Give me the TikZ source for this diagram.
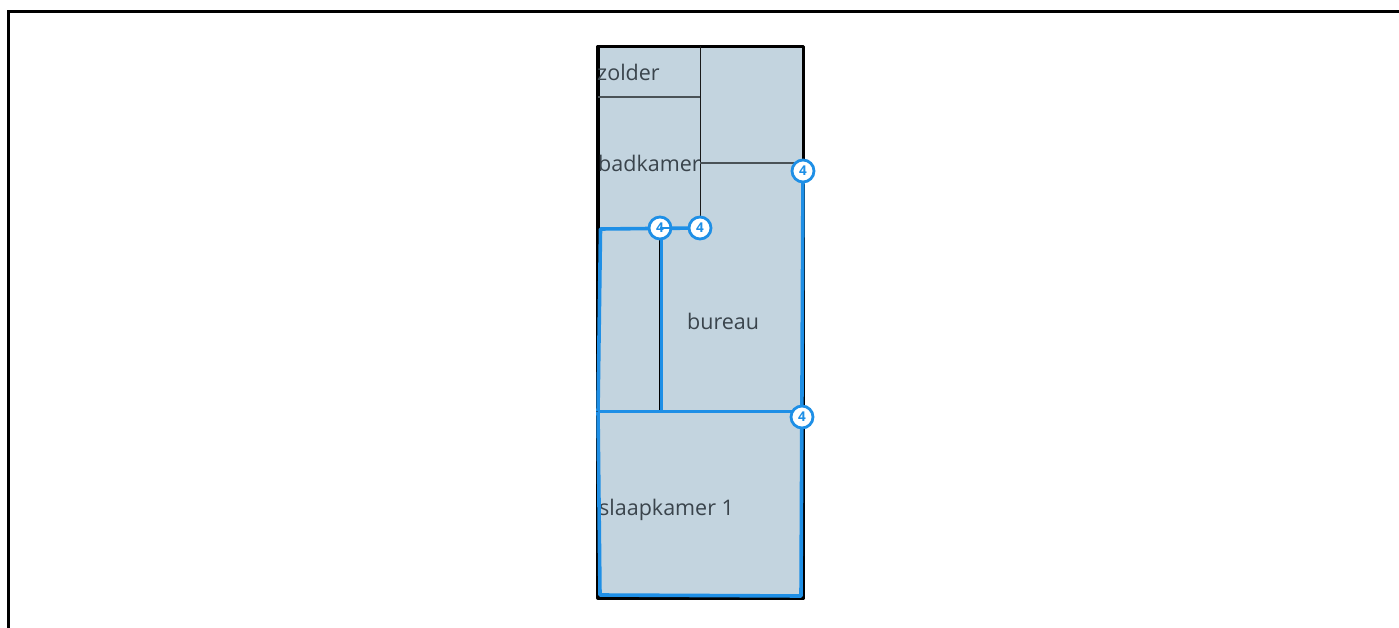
\documentclass[tikz,border=0pt]{standalone}
\usepackage{fontspec}
\setmainfont{Open Sans}
\definecolor{roomfill}{HTML}{C3D4DF}
\definecolor{roomtext}{HTML}{3A444C}
\definecolor{bluewall}{HTML}{1E8FE6}
\definecolor{thinwall}{HTML}{4A5257}
\tikzset{
  roomlabel/.style={text=roomtext,font=\fontsize{21.5}{24}\selectfont,inner sep=0pt,anchor=base west},
  marker/.style={circle,draw=bluewall,line width=2.8pt,fill=white,minimum size=22pt,inner sep=0pt,text=bluewall,font=\fontsize{13.5}{14}\selectfont\bfseries},
  frameline/.style={draw=black,line width=3.4pt},
  outerwall/.style={draw=black,line width=3.4pt,line join=round},
  thin wall/.style={draw=thinwall,line width=1.6pt},
  bluew/.style={draw=bluewall,line width=3.6pt,line join=round}
}
\begin{document}
\begin{tikzpicture}[x=1pt,y=-1pt]
\useasboundingbox (0,0) rectangle (1399,628);
\draw[frameline] (8.5,628) -- (8.5,11.5) -- (1399,11.5);
\draw[outerwall,fill=roomfill] (598,46.5) rectangle (803.5,598);
\draw[draw=black!90,line width=1.7pt] (700.5,46) -- (700.5,228);
\draw[thin wall] (598,97) -- (700,97);
\draw[thin wall] (700,163) -- (803,163);
\draw[draw=black,line width=1.8pt] (660,228) -- (660,411);
\node[roomlabel] (zolder) at (597,81) {zolder};
\node[roomlabel] (badkamer) at (598,172) {badkamer};
\node[roomlabel] (bureau) at (687,329.5) {bureau};
\node[roomlabel] (slaapkamer) at (599,515) {slaapkamer 1};
\coordinate (nwblue) at (600.5,229);
\coordinate (wblue) at (598,411.5);
\coordinate (swblue) at (600,595);
\coordinate (seblue) at (801,596);
\coordinate (tjunction) at (661.8,411);
\draw[bluew] (wblue) -- (nwblue) -- (700,228);
\draw[bluew] (wblue) -- (swblue) -- (seblue) -- (803,171);
\draw[bluew] (wblue) -- (802,411.5);
\draw[draw=bluewall,line width=3pt] (661.8,228) -- (tjunction);
\node[marker] (m1) at (803,171) {4};
\node[marker] (m2) at (660,228) {4};
\node[marker] (m3) at (700,228) {4};
\node[marker] (m4) at (802,417) {4};
\draw[draw=bluewall,line width=2pt] (m2.center) -- (m3);
\end{tikzpicture}
\end{document}
